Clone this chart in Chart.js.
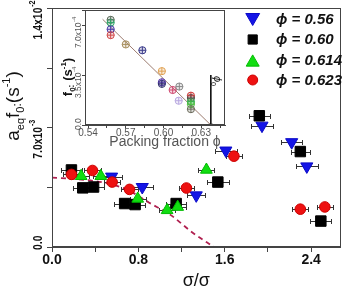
<!DOCTYPE html>
<html>
<head>
<meta charset="utf-8">
<script src="https://cdn.jsdelivr.net/npm/chart.js@4.4.1/dist/chart.umd.min.js"></script>
<style>
html,body{margin:0;padding:0;background:#ffffff;overflow:hidden;}
#wrap{position:relative;width:349px;height:287px;}
canvas{position:absolute;}
#main{left:0;top:0;}
#inset{left:60px;top:0;}
</style>
</head>
<body>
<div id="wrap">
<canvas id="main" width="349" height="287"></canvas>
<canvas id="inset" width="170" height="150"></canvas>
</div>
<script>
const FONT = "'Liberation Sans', Arial, Helvetica, sans-serif";

// ---------- main chart data (y in units of 1e-3 s^-1) ----------
const phi056X = [0.552, 0.836, 1.336, 1.61, 1.945, 2.22, 2.36];
const phi056Y = [4.13, 3.52, 3.03, 5.66, 7.12, 6.15, 4.73];
const phi056Err = [0.10, 0.10, 0.085, 0.10, 0.10, 0.10, 0.10];

const phi060X = [0.18, 0.285, 0.385, 0.673, 0.77, 1.15, 1.536, 1.92, 2.30, 2.49];
const phi060Y = [4.52, 3.47, 3.52, 2.55, 2.49, 2.55, 3.81, 7.70, 5.60, 1.52];
const phi060Err = [0.095, 0.095, 0.095, 0.095, 0.095, 0.095, 0.10, 0.10, 0.09, 0.097];

const phi0614X = [0.27, 0.452, 0.794, 1.066, 1.164, 1.43];
const phi0614Y = [4.16, 4.16, 2.83, 2.16, 2.35, 4.53];
const phi0614Err = [0.075, 0.075, 0.075, 0.075, 0.075, 0.075];

const phi0623X = [0.18, 0.375, 0.557, 0.718, 1.245, 1.685, 2.30, 2.527];
const phi0623Y = [4.26, 4.49, 3.81, 3.38, 3.46, 5.33, 2.22, 2.35];
const phi0623Err = [0.075, 0.075, 0.075, 0.075, 0.07, 0.077, 0.073, 0.075];

const guideX = [0, 0.2, 0.5, 0.7, 0.9, 1.1, 1.3, 1.5];
const guideY = [4.07, 4.0, 3.75, 3.35, 2.6, 1.87, 0.85, 0];

const seriesLabels = ['\u03D5 = 0.56', '\u03D5 = 0.60', '\u03D5 = 0.614', '\u03D5 = 0.623'];
const xTickLabels = ['0.0', '0.8', '1.6', '2.4'];
const yTickValues = [0, 7, 14];
const yTickLabels = ['0.0', '7.0x10', '1.4x10'];
const yTickExponents = ['', '-3', '-2'];

// ---------- inset data (f0 in units of 1e-4 s^-1) ----------
const insetPhi = [0.558, 0.558, 0.558, 0.558, 0.570, 0.5832, 0.5987, 0.5987, 0.5987, 0.6073, 0.6126, 0.6121, 0.6218, 0.6218, 0.6218, 0.6218, 0.6218];
const insetF0  = [7.36, 7.17, 6.70, 6.29, 5.64, 5.23, 3.77, 2.99, 2.88, 2.45, 2.69, 1.70, 2.05, 1.89, 1.63, 1.46, 1.11];
const insetFitPhi = [0.5516, 0.6376];
const insetFitF0 = [7.40, 0];
const phi0Phi = [0.6376, 0.6376];
const phi0F0 = [3.5, 0];
const insetXTickLabels = ['0.54', '0.57', '0.60', '0.63'];
const insetYTickValues = [0, 3.5, 7];
const insetYTickLabels = ['0.0', '3.5x10', '7.0x10'];
const insetYTickExponents = ['', '-4', '-4'];

const insetColors = ['#5a6a5a','#2fa86a','#4a3aa8','#d04848','#a89060','#3a3a8a','#e0a050','#5a3ab0','#30306a','#d04870','#8a8a8a','#b8a8e0','#d03838','#505050','#30b050','#50c040','#6a6a5a'];

const pts = (xs, ys) => xs.map((x, i) => ({x: x, y: ys[i]}));

// ---------- plugins ----------
const errorBars = {
  id: 'errorBars',
  beforeDatasetsDraw(chart) {
    const {ctx, chartArea, scales: {x, y}} = chart;
    ctx.save();
    ctx.beginPath();
    ctx.rect(chartArea.left, chartArea.top, chartArea.right - chartArea.left, chartArea.bottom - chartArea.top);
    ctx.clip();
    ctx.strokeStyle = '#333';
    ctx.lineWidth = 1;
    chart.data.datasets.forEach(ds => {
      if (!ds.errX) return;
      ds.data.forEach((p, i) => {
        const e = ds.errX[i];
        const x1 = Math.round(x.getPixelForValue(p.x - e)) + 0.5;
        const x2 = Math.round(x.getPixelForValue(p.x + e)) + 0.5;
        const py = Math.round(y.getPixelForValue(p.y)) + 0.5;
        ctx.beginPath();
        ctx.moveTo(x1, py); ctx.lineTo(x2, py);
        ctx.moveTo(x1, py - 2.5); ctx.lineTo(x1, py + 2.5);
        ctx.moveTo(x2, py - 2.5); ctx.lineTo(x2, py + 2.5);
        ctx.stroke();
      });
    });
    ctx.restore();
  }
};

function drawRich(ctx, parts, baseX, centerY, color) {
  let total = 0;
  parts.forEach(p => { ctx.font = `${p.w || ''} ${p.size}px ${FONT}`; total += ctx.measureText(p.t).width; });
  ctx.save();
  ctx.translate(baseX, centerY + total / 2);
  ctx.rotate(-Math.PI / 2);
  ctx.fillStyle = color;
  ctx.textBaseline = 'alphabetic';
  ctx.textAlign = 'left';
  let pos = 0;
  parts.forEach(p => {
    ctx.font = `${p.w || ''} ${p.size}px ${FONT}`;
    ctx.fillText(p.t, pos, p.dy || 0);
    pos += ctx.measureText(p.t).width;
  });
  ctx.restore();
}

const mainDecor = {
  id: 'mainDecor',
  afterDraw(chart) {
    const {ctx, chartArea: a, scales: {y}} = chart;
    ctx.save();
    // frame
    ctx.strokeStyle = '#444';
    ctx.lineWidth = 1;
    ctx.strokeRect(Math.round(a.left) + 0.5, Math.round(a.top) + 0.5, Math.round(a.right - a.left) - 1, Math.round(a.bottom - a.top) - 1);
    // y tick labels (rotated)
    ctx.fillStyle = '#111';
    yTickValues.forEach((v, i) => {
      const py = y.getPixelForValue(v);
      const exp = yTickExponents[i];
      const bottom = exp ? py + 31 : py + 3;
      ctx.save();
      ctx.translate(42, bottom);
      ctx.rotate(-Math.PI / 2);
      ctx.scale(0.8, 1);
      ctx.textBaseline = 'alphabetic';
      ctx.textAlign = 'left';
      ctx.font = `bold 13px ${FONT}`;
      ctx.fillText(yTickLabels[i], 0, 0);
      if (exp) {
        const w = ctx.measureText(yTickLabels[i]).width;
        ctx.font = `bold 9px ${FONT}`;
        ctx.fillText(exp, w + 1, -7);
      }
      ctx.restore();
    });
    // y title
    drawRich(ctx, [
      {t: 'a', size: 19}, {t: 'eq', size: 11, dy: 5}, {t: 'f', size: 19}, {t: '0', size: 11, dy: 5},
      {t: ':', size: 12, dy: 2}, {t: '(s', size: 19}, {t: '-1', size: 11, dy: -9}, {t: ')', size: 19}
    ], 19, 106, '#111');
    // x title
    ctx.fillStyle = '#111';
    ctx.textBaseline = 'alphabetic';
    ctx.font = `18px ${FONT}`;
    const tw = ctx.measureText('\u03C3/\u03C3').width;
    const cx = (a.left + a.right) / 2;
    ctx.textAlign = 'left';
    ctx.fillText('\u03C3/\u03C3', cx - tw / 2, 286);
    ctx.font = `12px ${FONT}`;
    ctx.fillText('y', cx + tw / 2 + 1, 294);
    // legend
    const rows = [19.5, 39.5, 60.5, 80];
    const order = [3, 2, 1, 0];
    const sizes = [8, 6.5, 7.5, 5];
    order.forEach((di, r) => {
      const ds = chart.data.datasets[di];
      const rad = sizes[r];
      let cy = rows[r];
      if (ds.pointStyle === 'triangle') cy += (ds.pointRotation === 180 ? -rad / 4 : rad / 4);
      ctx.fillStyle = ds.pointBackgroundColor;
      ctx.strokeStyle = ds.pointBorderColor;
      Chart.helpers.drawPoint(ctx, {pointStyle: ds.pointStyle, rotation: ds.pointRotation || 0, radius: rad, borderWidth: 1}, 252.7, cy);
      ctx.fillStyle = '#111';
      ctx.font = `italic bold 15px ${FONT}`;
      ctx.textBaseline = 'middle';
      ctx.textAlign = 'left';
      ctx.fillText(seriesLabels[3 - di], 276, rows[r] + 0.5);
    });
    ctx.restore();
  }
};

new Chart(document.getElementById('main'), {
  type: 'scatter',
  data: {
    datasets: [
      {label: seriesLabels[3], data: pts(phi0623X, phi0623Y), errX: phi0623Err, pointStyle: 'circle', pointRadius: 5.3,
       pointBackgroundColor: '#ee1111', pointBorderColor: '#cc0000', pointBorderWidth: 1, order: 1},
      {label: seriesLabels[2], data: pts(phi0614X, phi0614Y), errX: phi0614Err, pointStyle: 'triangle', pointRadius: 6.8,
       pointBackgroundColor: '#11dd11', pointBorderColor: '#00bb00', pointBorderWidth: 1, order: 2},
      {label: seriesLabels[1], data: pts(phi060X, phi060Y), errX: phi060Err, pointStyle: 'rect', pointRadius: 7.4,
       pointBackgroundColor: '#000000', pointBorderColor: '#000000', pointBorderWidth: 1, order: 3},
      {label: seriesLabels[0], data: pts(phi056X, phi056Y), errX: phi056Err, pointStyle: 'triangle', pointRotation: 180, pointRadius: 7,
       pointBackgroundColor: '#1414e6', pointBorderColor: '#0a0ac8', pointBorderWidth: 1, order: 4},
      {type: 'line', label: 'guide', data: pts(guideX, guideY), borderColor: '#b02050', borderWidth: 1.8, borderDash: [5, 4],
       pointRadius: 0, cubicInterpolationMode: 'monotone', fill: false, order: 10}
    ]
  },
  options: {
    responsive: false, animation: false, devicePixelRatio: 1, events: [],
    layout: {padding: {top: 7, right: 3, left: 0, bottom: 0}},
    plugins: {legend: {display: false}, tooltip: {enabled: false}},
    scales: {
      x: {
        type: 'linear', min: 0, max: 2.673,
        border: {display: true, color: '#444', width: 1},
        grid: {drawOnChartArea: false, drawTicks: true, tickLength: 5, color: '#444'},
        ticks: {
          stepSize: 0.4, includeBounds: false, autoSkip: false, maxRotation: 0, padding: 0,
          color: '#111', font: {family: FONT, size: 14, weight: 'bold'},
          callback: (v) => { const k = Math.round(v / 0.4); return k % 2 === 0 ? (xTickLabels[k / 2] || '') : ''; }
        },
        afterFit: (s) => { s.height = 40; }
      },
      y: {
        type: 'linear', min: 0, max: 14,
        border: {display: true, color: '#444', width: 1},
        grid: {drawOnChartArea: false, drawTicks: true, tickLength: 5, color: '#444'},
        ticks: {stepSize: 3.5, display: false},
        afterFit: (s) => { s.width = 52; }
      }
    }
  },
  plugins: [errorBars, mainDecor]
});

// ---------- inset ----------
const insetDecor = {
  id: 'insetDecor',
  afterDraw(chart) {
    const {ctx, chartArea: a, scales: {x, y}} = chart;
    ctx.save();
    ctx.strokeStyle = '#444';
    ctx.lineWidth = 1;
    ctx.strokeRect(Math.round(a.left) + 0.5, Math.round(a.top) + 0.5, Math.round(a.right - a.left) - 1, Math.round(a.bottom - a.top) - 1);
    ctx.fillStyle = '#555';
    insetYTickValues.forEach((v, i) => {
      const py = y.getPixelForValue(v);
      const exp = insetYTickExponents[i];
      const bottom = exp ? py + 23 : py + 5;
      ctx.save();
      ctx.translate(21, bottom);
      ctx.rotate(-Math.PI / 2);
      ctx.textBaseline = 'alphabetic';
      ctx.textAlign = 'left';
      ctx.font = `8.5px ${FONT}`;
      ctx.fillText(insetYTickLabels[i], 0, 0);
      if (exp) {
        const w = ctx.measureText(insetYTickLabels[i]).width;
        ctx.font = `6px ${FONT}`;
        ctx.fillText(exp, w + 0.5, -5);
      }
      ctx.restore();
    });
    drawRich(ctx, [
      {t: 'f', size: 13, w: 'bold'}, {t: '0', size: 8, w: 'bold', dy: 3}, {t: ':', size: 9, w: 'bold', dy: 2},
      {t: ' (s', size: 13, w: 'bold'}, {t: '-1', size: 8, w: 'bold', dy: -6}, {t: ')', size: 13, w: 'bold'}
    ], 12, 77, '#111');
    // x title
    ctx.fillStyle = '#555';
    ctx.font = `14px ${FONT}`;
    ctx.textAlign = 'center';
    ctx.textBaseline = 'middle';
    ctx.fillText('Packing fraction \u03D5', 105, 142);
    // phi0 label
    const px = x.getPixelForValue(phi0Phi[0]);
    ctx.save();
    ctx.translate(px + 3, 76);
    ctx.rotate(Math.PI / 2);
    ctx.fillStyle = '#111';
    ctx.textAlign = 'left';
    ctx.textBaseline = 'alphabetic';
    ctx.font = `italic 11px ${FONT}`;
    ctx.fillText('\u03D5', 0, 0);
    const w = ctx.measureText('\u03D5').width;
    ctx.font = `7px ${FONT}`;
    ctx.fillText('0', w, 3);
    ctx.restore();
    ctx.restore();
  }
};

const insetPts = pts(insetPhi, insetF0);
new Chart(document.getElementById('inset'), {
  type: 'scatter',
  data: {
    datasets: [
      {label: 'cross', data: insetPts, pointStyle: 'cross', pointRadius: 3.6, pointBorderWidth: 1,
       pointBorderColor: insetColors, order: 0},
      {label: 'f0', data: insetPts, pointStyle: 'circle', pointRadius: 3.6, pointBorderWidth: 1,
       pointBorderColor: insetColors, pointBackgroundColor: insetColors.map(c => c + '30'), order: 1},
      {type: 'line', label: 'fit', data: pts(insetFitPhi, insetFitF0), borderColor: '#9c7c70', borderWidth: 1,
       pointRadius: 0, fill: false, order: 2},
      {type: 'line', label: 'phi0', data: pts(phi0Phi, phi0F0), borderColor: '#111', borderWidth: 1,
       pointRadius: [0, 2.5], pointStyle: 'triangle', pointRotation: 180, pointBackgroundColor: '#111',
       pointBorderWidth: 0, fill: false, order: 3}
    ]
  },
  options: {
    responsive: false, animation: false, devicePixelRatio: 1, events: [],
    layout: {padding: {top: 10, right: 4, left: 0, bottom: 0}},
    plugins: {legend: {display: false}, tooltip: {enabled: false}},
    scales: {
      x: {
        type: 'linear', min: 0.5376, max: 0.6489,
        border: {display: true, color: '#444', width: 1},
        grid: {drawOnChartArea: false, drawTicks: true, tickLength: 3, color: '#444'},
        ticks: {
          stepSize: 0.015, includeBounds: false, autoSkip: false, maxRotation: 0, padding: -1,
          color: '#555', font: {family: FONT, size: 10},
          callback: (v) => { const k = Math.round((v - 0.54) / 0.015); return k % 2 === 0 ? (insetXTickLabels[k / 2] || '') : ''; }
        },
        afterFit: (s) => { s.height = 25; }
      },
      y: {
        type: 'linear', min: 0, max: 8.05,
        border: {display: true, color: '#444', width: 1},
        grid: {drawOnChartArea: false, drawTicks: true, tickLength: 3, color: '#444'},
        ticks: {stepSize: 3.5, display: false},
        afterFit: (s) => { s.width = 25; }
      }
    }
  },
  plugins: [insetDecor]
});
</script>
</body>
</html>
